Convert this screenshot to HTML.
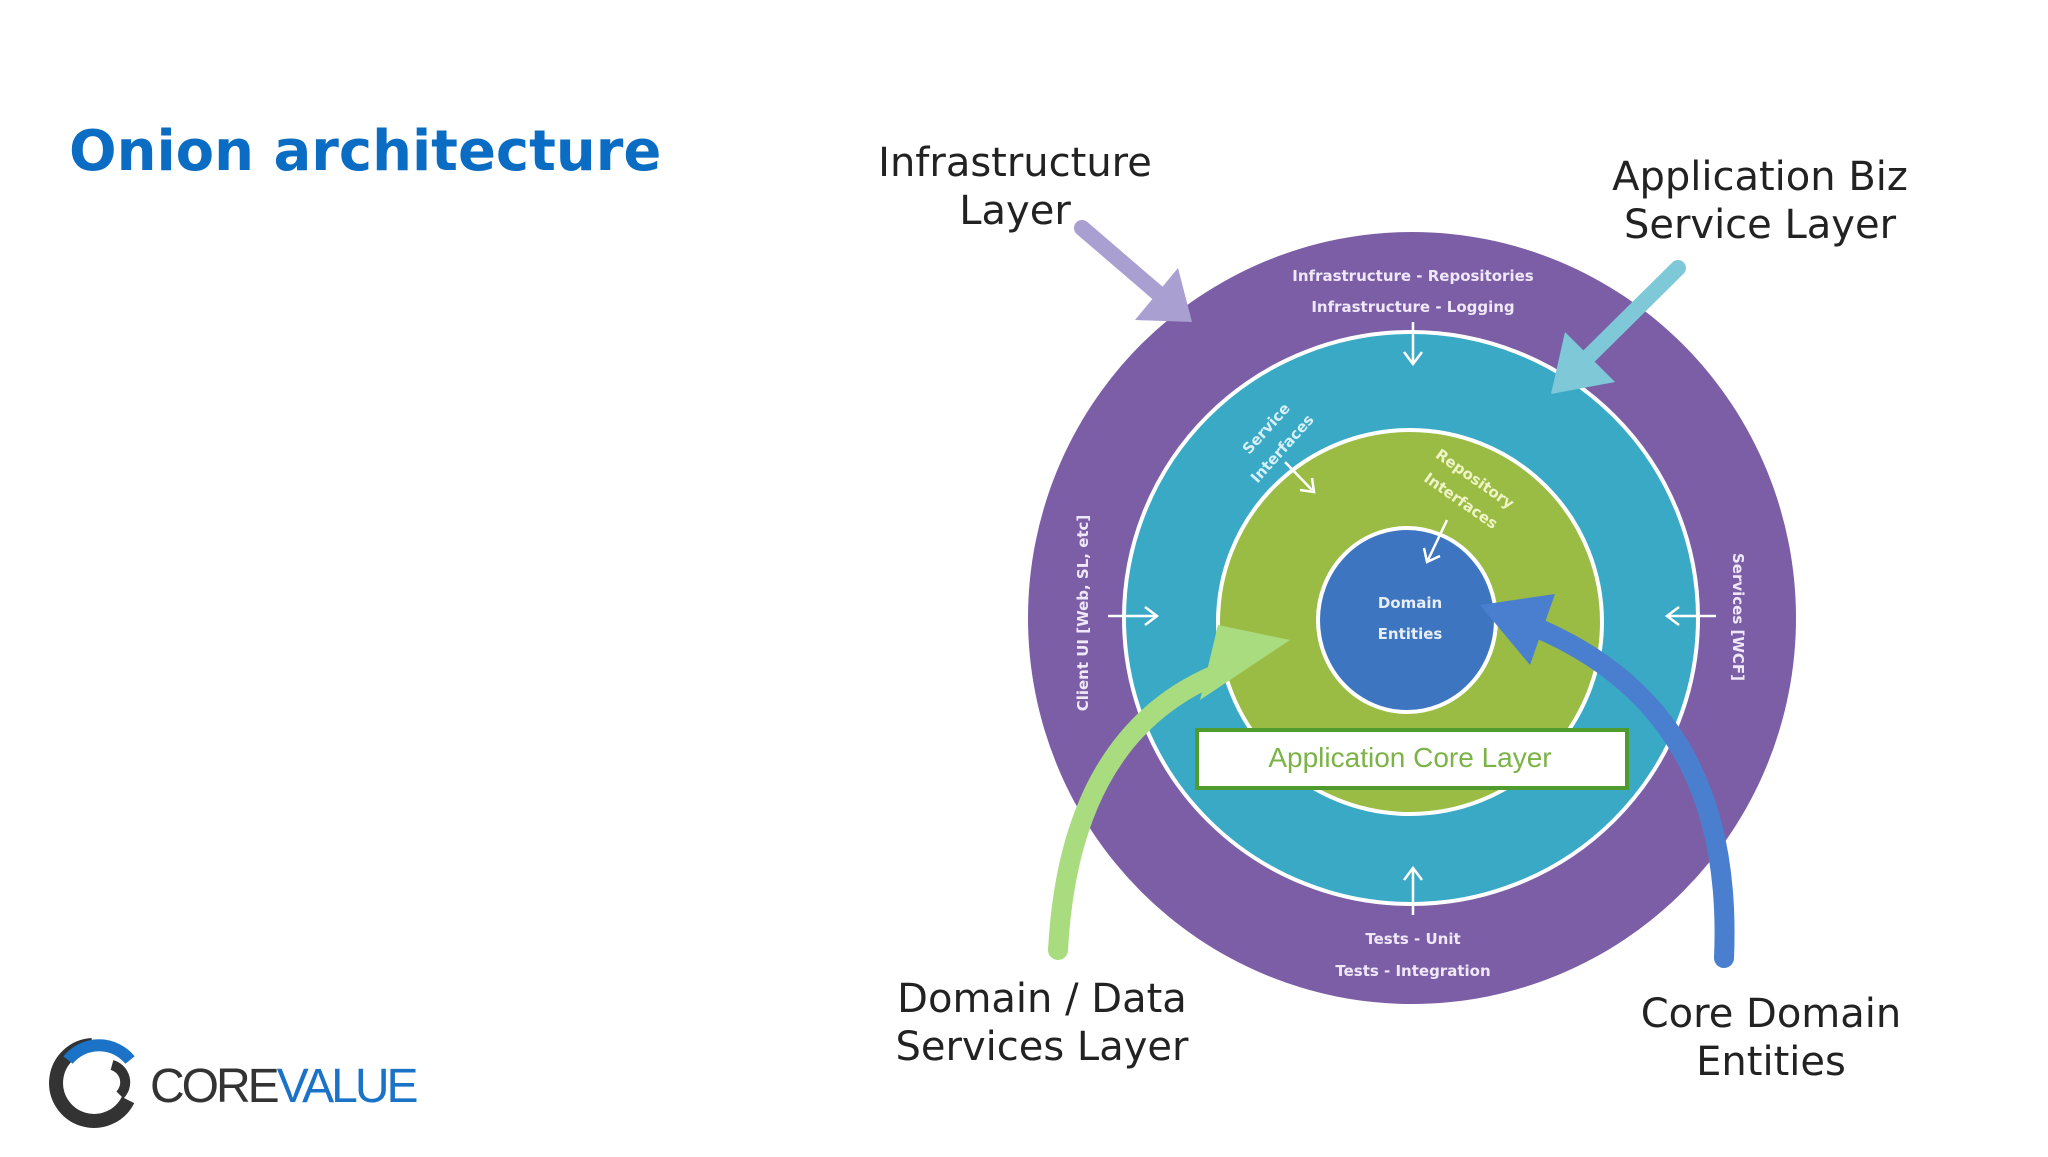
<!DOCTYPE html>
<html><head><meta charset="utf-8"><style>
html,body{margin:0;padding:0;background:#fff;}
body{width:2048px;height:1152px;overflow:hidden;position:relative;font-family:"Liberation Sans",sans-serif;}
</style></head><body>
<svg width="2048" height="1152" viewBox="0 0 2048 1152" xmlns="http://www.w3.org/2000/svg">
<text x="69" y="170" font-family="DejaVu Sans, sans-serif" font-weight="bold" font-size="56" fill="#0a6cc2">Onion architecture</text>
<!-- rings -->
<ellipse cx="1412" cy="618" rx="384" ry="386" fill="#7b5ea6"/>
<ellipse cx="1411" cy="618" rx="287" ry="286" fill="#3aa9c6" stroke="#fff" stroke-width="4"/>
<ellipse cx="1410" cy="622" rx="192" ry="192" fill="#9bbc44" stroke="#fff" stroke-width="4"/>
<ellipse cx="1407" cy="620" rx="89" ry="92" fill="#3e75c0" stroke="#fff" stroke-width="4"/>
<!-- ring labels -->
<g font-family="DejaVu Sans, sans-serif" font-weight="bold" font-size="15" fill="#f0e8f8" text-anchor="middle">
<text x="1413" y="281">Infrastructure - Repositories</text>
<text x="1413" y="312">Infrastructure - Logging</text>
<text x="1413" y="944">Tests - Unit</text>
<text x="1413" y="976">Tests - Integration</text>
<text transform="translate(1088,613) rotate(-90)">Client UI [Web, SL, etc]</text>
<text transform="translate(1733,617) rotate(90)">Services [WCF]</text>
<text transform="translate(1270,432) rotate(-48)" fill="#d8f0f8">Service</text>
<text transform="translate(1286,452) rotate(-48)" fill="#d8f0f8">Interfaces</text>
<text transform="translate(1472,483) rotate(35)" fill="#f0f5c8">Repository</text>
<text transform="translate(1458,505) rotate(35)" fill="#f0f5c8">Interfaces</text>
<text x="1410" y="608" fill="#e8eef8">Domain</text>
<text x="1410" y="639" fill="#e8eef8">Entities</text>
</g>
<!-- small white arrows -->
<g stroke="#fff" stroke-width="2.5" fill="none">
<path d="M1413 322 V362 M1404 352 L1413 364 L1422 352"/>
<path d="M1108 616 H1155 M1145 607 L1157 616 L1145 625"/>
<path d="M1716 616 H1669 M1679 607 L1667 616 L1679 625"/>
<path d="M1413 915 V870 M1404 880 L1413 868 L1422 880"/>
<path d="M1285 462 L1312 490 M1300 490 L1314 492 L1312 478"/>
<path d="M1447 520 L1428 560 M1424 548 L1427 562 L1440 556"/>
</g>
<!-- core layer box -->
<rect x="1197" y="730" width="430" height="58" fill="#fff" stroke="#4f9b2e" stroke-width="4"/>
<text x="1410" y="767" font-size="28" fill="#7bb346" text-anchor="middle">Application Core Layer</text>
<!-- big arrows -->
<g fill="none" stroke-linecap="round">
<path d="M1082 228 L1160 295" stroke="#a99fd0" stroke-width="16"/>
<path d="M1678 268 L1580 365" stroke="#7fc8d8" stroke-width="16"/>
<path d="M1058 950 C1065 820 1110 720 1215 675" stroke="#a9dc7e" stroke-width="20"/>
<path d="M1724 958 C1730 820 1690 690 1530 625" stroke="#4a7fcf" stroke-width="20"/>
</g>
<polygon points="1135,320 1192,322 1178,268" fill="#a99fd0"/>
<polygon points="1551,394 1615,382 1565,332" fill="#7fc8d8"/>
<polygon points="1290,640 1200,700 1218,625" fill="#a9dc7e"/>
<polygon points="1480,605 1555,594 1530,665" fill="#4a7fcf"/>
<!-- outer labels -->
<g font-family="DejaVu Sans, sans-serif" font-size="40" fill="#222" text-anchor="middle">
<text x="1015" y="176">Infrastructure</text>
<text x="1015" y="224">Layer</text>
<text x="1760" y="190">Application Biz</text>
<text x="1760" y="238">Service Layer</text>
<text x="1042" y="1012">Domain / Data</text>
<text x="1042" y="1060">Services Layer</text>
<text x="1771" y="1027">Core Domain</text>
<text x="1771" y="1075">Entities</text>
</g>
<!-- logo -->
<g transform="translate(0,50)">
<path d="M92 995 A38 38 0 1 0 128 1050" fill="none" stroke="#333" stroke-width="14"/>
<path d="M68 1010 A40 40 0 0 1 130 1010" fill="none" stroke="#1a73c6" stroke-width="12"/>
<path d="M112 1015 A18 18 0 0 1 120 1045" fill="none" stroke="#333" stroke-width="10"/>
</g>
<text x="150" y="1102" font-size="48" fill="#333" letter-spacing="-3">CORE<tspan fill="#1a73c6">VALUE</tspan></text>
</svg>
</body></html>
